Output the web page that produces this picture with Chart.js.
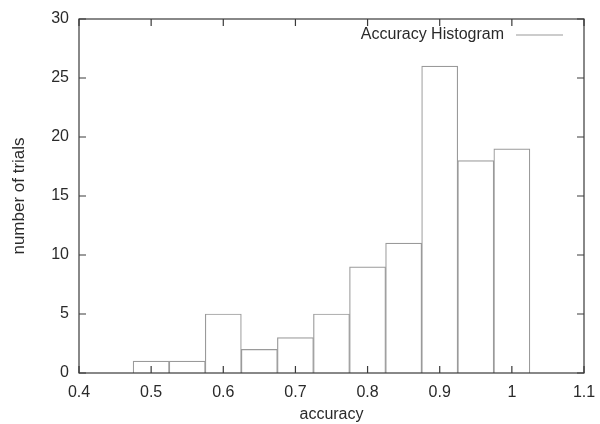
<!DOCTYPE html>
<html>
<head>
<meta charset="utf-8">
<style>
  html, body { margin: 0; padding: 0; background: #fff; }
  #wrap { width: 600px; height: 424px; }
</style>
<script src="https://cdn.jsdelivr.net/npm/chart.js@4/dist/chart.umd.min.js"></script>
</head>
<body>
<div id="wrap"><canvas id="chart" width="600" height="424"></canvas></div>
<script>
// histogram bins (accuracy) and their counts
const binCenters = [0.5, 0.55, 0.6, 0.65, 0.7, 0.75, 0.8, 0.85, 0.9, 0.95, 1.0];
const trialCounts = [1, 1, 5, 2, 3, 5, 9, 11, 26, 18, 19];
const xTicks = [0.4, 0.5, 0.6, 0.7, 0.8, 0.9, 1.0, 1.1];
const yTicks = [0, 5, 10, 15, 20, 25, 30];
const seriesLabel = 'Accuracy Histogram';

const FONT = 'Liberation Sans, Arial, Helvetica, sans-serif';
const textColor = '#2a2a2a';
const frameColor = '#3a3a3a';
const barColor = '#9a9a9a';

// gnuplot style frame with inward ticks on all four sides + legend in the corner
const frameTicks = {
    id: 'frameTicks',
    afterDraw(chart) {
        const {ctx, chartArea: a, scales: {x, y}} = chart;
        const len = 7;
        ctx.save();
        ctx.strokeStyle = frameColor;
        ctx.lineWidth = 1.2;
        ctx.strokeRect(a.left, a.top, a.right - a.left, a.bottom - a.top);
        ctx.beginPath();
        xTicks.forEach(v => {
            const px = x.getPixelForValue(v);
            ctx.moveTo(px, a.bottom); ctx.lineTo(px, a.bottom - len);
            ctx.moveTo(px, a.top); ctx.lineTo(px, a.top + len);
        });
        yTicks.forEach(v => {
            const py = y.getPixelForValue(v);
            ctx.moveTo(a.left, py); ctx.lineTo(a.left + len, py);
            ctx.moveTo(a.right, py); ctx.lineTo(a.right - len, py);
        });
        ctx.stroke();

        // legend: text then line sample
        const ly = a.top + 16;
        ctx.font = '16px ' + FONT;
        ctx.fillStyle = textColor;
        ctx.textAlign = 'right';
        ctx.textBaseline = 'middle';
        ctx.fillText(seriesLabel, a.right - 80, ly);
        ctx.strokeStyle = barColor;
        ctx.lineWidth = 1.2;
        ctx.beginPath();
        ctx.moveTo(a.right - 68, ly);
        ctx.lineTo(a.right - 21, ly);
        ctx.stroke();
        ctx.restore();
    }
};

new Chart(document.getElementById('chart'), {
    type: 'bar',
    data: {
        datasets: [{
            label: seriesLabel,
            data: binCenters.map((c, i) => ({x: c, y: trialCounts[i]})),
            backgroundColor: '#ffffff',
            borderColor: barColor,
            borderWidth: 1.2,
            barPercentage: 1,
            categoryPercentage: 1,
        }]
    },
    options: {
        responsive: false,
        animation: false,
        layout: {padding: {top: 19, right: 16, left: 0, bottom: 0}},
        plugins: {legend: {display: false}, tooltip: {enabled: false}},
        scales: {
            x: {
                type: 'linear',
                min: 0.4,
                max: 1.1,
                offset: false,
                afterBuildTicks: s => { s.ticks = xTicks.map(v => ({value: v})); },
                afterFit: s => { s.height = 51; s.paddingRight = 0; s.paddingLeft = 0; },
                grid: {display: false, drawTicks: false},
                border: {display: false},
                ticks: {
                    padding: 10,
                    color: textColor,
                    font: {family: FONT, size: 16},
                    callback: v => String(Math.round(v * 10) / 10),
                },
                title: {
                    display: true,
                    text: 'accuracy',
                    color: textColor,
                    font: {family: FONT, size: 16},
                    padding: {top: 0, bottom: 0},
                },
            },
            y: {
                min: 0,
                max: 30,
                afterBuildTicks: s => { s.ticks = yTicks.map(v => ({value: v})); },
                afterFit: s => { s.width = 79; s.paddingTop = 0; s.paddingBottom = 0; },
                grid: {display: false, drawTicks: false},
                border: {display: false},
                ticks: {
                    padding: 10,
                    color: textColor,
                    font: {family: FONT, size: 16},
                },
                title: {
                    display: true,
                    text: 'number of trials',
                    color: textColor,
                    font: {family: FONT, size: 17},
                    padding: {top: 9, bottom: 0},
                },
            },
        },
    },
    plugins: [frameTicks],
});
</script>
</body>
</html>
